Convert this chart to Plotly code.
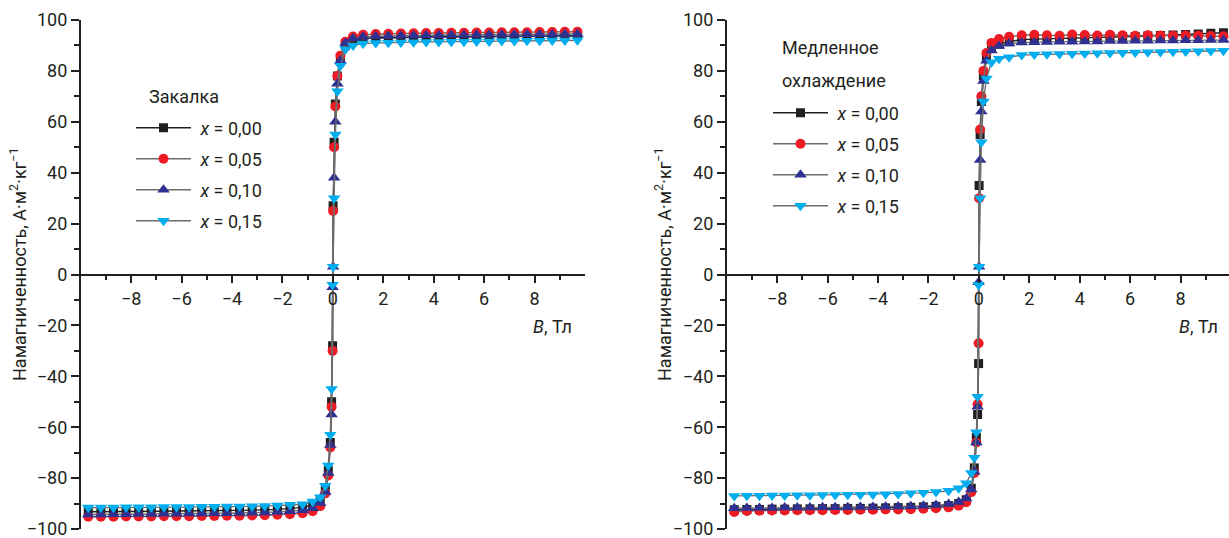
import plotly.graph_objects as go

# ---------------- data ----------------
B = [-9.7, -9.2, -8.7, -8.2, -7.7, -7.2, -6.7, -6.2, -5.7, -5.2, -4.7, -4.2, -3.7, -3.2, -2.7, -2.2, -1.7,
     -1.2, -0.8, -0.5, -0.3, -0.18, -0.1, -0.05, -0.01, 0.01, 0.05, 0.1, 0.18, 0.3, 0.5, 0.8, 1.2,
     1.7, 2.2, 2.7, 3.2, 3.7, 4.2, 4.7, 5.2, 5.7, 6.2, 6.7, 7.2, 7.7, 8.2, 8.7, 9.2, 9.7]

series_names = ["<i>x</i> = 0,00", "<i>x</i> = 0,05", "<i>x</i> = 0,10", "<i>x</i> = 0,15"]

# Quenched ("Закалка")
M_q_000 = [-93.2, -93.2, -93.1, -93.1, -93.0, -93.0, -93.0, -92.9, -92.9, -92.8, -92.8, -92.7, -92.7, -92.6, -92.5, -92.3, -92.0,
           -91.5, -90.5, -88.5, -84.5, -77.0, -66.0, -50.0, -28.0, 27.0, 52.0, 67.0, 78.0, 85.0, 90.0, 92.0, 92.8,
           93.0, 93.1, 93.2, 93.3, 93.3, 93.4, 93.4, 93.5, 93.5, 93.5, 93.6, 93.6, 93.6, 93.7, 93.7, 93.7, 93.8]
M_q_005 = [-95.2, -95.2, -95.2, -95.1, -95.1, -95.1, -95.0, -95.0, -95.0, -94.9, -94.9, -94.8, -94.8, -94.7, -94.6, -94.4, -94.2,
           -93.8, -93.0, -91.0, -86.0, -79.0, -68.0, -52.0, -30.0, 25.0, 50.0, 66.0, 78.0, 86.0, 91.5, 93.5, 94.2,
           94.5, 94.6, 94.7, 94.8, 94.9, 94.9, 95.0, 95.0, 95.1, 95.1, 95.2, 95.2, 95.2, 95.3, 95.3, 95.4, 95.4]
M_q_010 = [-94.3, -94.3, -94.2, -94.2, -94.1, -94.1, -94.0, -94.0, -93.9, -93.9, -93.8, -93.8, -93.7, -93.6, -93.5, -93.3, -93.0,
           -92.6, -91.8, -89.8, -85.5, -78.0, -67.0, -55.0, -5.0, 3.0, 38.0, 60.0, 75.0, 84.0, 91.0, 92.8, 93.4,
           93.6, 93.7, 93.8, 93.9, 94.0, 94.0, 94.1, 94.1, 94.2, 94.2, 94.3, 94.3, 94.4, 94.4, 94.4, 94.5, 94.5]
M_q_015 = [-91.6, -91.6, -91.6, -91.5, -91.5, -91.5, -91.4, -91.4, -91.4, -91.3, -91.3, -91.2, -91.2, -91.1, -91.0, -90.8, -90.5,
           -90.3, -89.2, -87.5, -83.0, -75.0, -63.0, -45.0, -4.0, 3.0, 30.0, 55.0, 72.0, 82.0, 88.5, 90.0, 90.8,
           91.0, 91.1, 91.2, 91.3, 91.4, 91.4, 91.5, 91.5, 91.6, 91.6, 91.7, 91.7, 91.8, 91.8, 91.9, 91.9, 92.0]

# Slow cooling ("Медленное охлаждение")
M_s_000 = [-92.4, -92.3, -92.3, -92.2, -92.2, -92.1, -92.1, -92.0, -92.0, -91.9, -91.9, -91.8, -91.7, -91.6, -91.5, -91.3, -91.1,
           -90.8, -90.0, -88.5, -84.0, -76.0, -64.0, -55.0, -35.0, 35.0, 55.0, 68.0, 78.0, 85.0, 89.0, 90.5, 91.5,
           92.3, 92.5, 92.6, 92.8, 92.9, 93.0, 93.1, 93.3, 93.4, 93.5, 93.7, 93.9, 94.1, 94.3, 94.5, 94.8, 95.0]
M_s_005 = [-93.3, -92.9, -92.8, -92.7, -92.7, -92.6, -92.6, -92.6, -92.5, -92.5, -92.4, -92.4, -92.3, -92.3, -92.2, -92.0, -91.8,
           -91.5, -90.8, -89.5, -85.5, -78.0, -66.0, -51.0, -27.0, 30.0, 57.0, 70.0, 80.0, 87.0, 91.0, 92.5, 93.4,
           94.0, 94.2, 94.0, 93.8, 94.3, 94.1, 93.9, 94.2, 94.0, 93.8, 94.0, 93.9, 93.8, 93.9, 93.8, 93.7, 93.6]
M_s_010 = [-91.8, -91.7, -91.7, -91.7, -91.6, -91.6, -91.6, -91.5, -91.5, -91.5, -91.4, -91.4, -91.3, -91.2, -91.1, -90.9, -90.6,
           -90.2, -89.4, -88.0, -84.5, -77.5, -66.0, -52.0, -3.0, 3.0, 45.0, 64.0, 76.0, 84.0, 88.0, 89.8, 90.8,
           91.2, 91.3, 91.4, 91.5, 91.5, 91.6, 91.6, 91.7, 91.7, 91.8, 91.8, 91.9, 91.9, 92.0, 92.0, 92.1, 92.1]
M_s_015 = [-87.0, -86.9, -86.9, -86.8, -86.8, -86.7, -86.7, -86.6, -86.6, -86.5, -86.5, -86.4, -86.3, -86.2, -86.0, -85.8, -85.5,
           -85.0, -84.0, -82.0, -78.0, -72.0, -62.0, -48.0, -4.0, 3.0, 30.0, 52.0, 68.0, 77.0, 83.4, 84.8, 85.4,
           86.2, 86.4, 86.5, 86.6, 86.7, 86.8, 86.9, 87.0, 87.1, 87.2, 87.3, 87.4, 87.5, 87.6, 87.7, 87.8, 87.9]

left_series = [M_q_000, M_q_005, M_q_010, M_q_015]
right_series = [M_s_000, M_s_005, M_s_010, M_s_015]

# ---------------- styles ----------------
marker_symbols = ["square", "circle", "triangle-up", "triangle-down"]
marker_colors = ["#231f20", "#ed1c24", "#2e3192", "#00aeef"]
marker_sizes = [9, 10, 11, 11]
line_colors = ["#231f20", "#6d6d6d", "#6d6d6d", "#6d6d6d"]
FONT = "Roboto, Arial, sans-serif"
AX = "#231f20"
FS = 18
NBSP = "\u00a0"

fig = go.Figure()
for panel, (series, xa, ya, leg) in enumerate([(left_series, "x", "y", "legend"),
                                               (right_series, "x2", "y2", "legend2")]):
    for i, vals in enumerate(series):
        fig.add_trace(go.Scatter(
            x=B, y=vals, xaxis=xa, yaxis=ya, mode="lines+markers",
            name=NBSP + series_names[i], legend=leg, legendgroup=f"p{panel}s{i}",
            line=dict(color=line_colors[i], width=1.4),
            marker=dict(symbol=marker_symbols[i], color=marker_colors[i], size=marker_sizes[i],
                        line=dict(width=0)),
        ))

W, H = 1229, 538
y_dom = [(H - 529) / H, (H - 20) / H]
y_mid = (y_dom[0] + y_dom[1]) / 2

def xaxis_cfg(domain, rng):
    return dict(domain=domain, range=rng, anchor="free", position=y_mid,
                automargin=False,
                showline=True, linecolor=AX, linewidth=1.5, mirror=False,
                tickmode="array", tickvals=[-8, -6, -4, -2, 0, 2, 4, 6, 8],
                ticktext=["−8", "−6", "−4", "−2", "0", "2", "4", "6", "8"],
                ticks="outside", ticklen=8, tickwidth=1.5, tickcolor=AX,
                minor=dict(tickmode="array", tickvals=[-9, -7, -5, -3, -1, 1, 3, 5, 7, 9],
                           ticks="outside", ticklen=5, tickwidth=1.5, tickcolor=AX),
                showgrid=False, zeroline=False, ticklabeloverflow="allow",
                tickfont=dict(family=FONT, size=FS, color=AX))

def yaxis_cfg(anchor):
    return dict(domain=y_dom, range=[-100, 100], anchor=anchor,
                automargin=False,
                showline=True, linecolor=AX, linewidth=1.5,
                tickmode="linear", tick0=0, dtick=20,
                ticks="outside", ticklen=8, tickwidth=1.5, tickcolor=AX,
                minor=dict(dtick=10, ticks="outside", ticklen=5, tickwidth=1.5, tickcolor=AX),
                showgrid=False, zeroline=False, ticklabeloverflow="allow",
                tickfont=dict(family=FONT, size=FS, color=AX))

legend_common = dict(xanchor="left", yanchor="top", itemwidth=55, tracegroupgap=4.6,
                     bgcolor="rgba(0,0,0,0)", borderwidth=0,
                     font=dict(family=FONT, size=FS, color=AX))

ytitle = "Намагниченность, А·м<sup>2</sup>·кг<sup>−1</sup>"
ann_font = dict(family=FONT, size=FS, color=AX)

fig.update_layout(
    width=W, height=H,
    margin=dict(l=0, r=0, t=0, b=0, pad=0, autoexpand=False),
    paper_bgcolor="white", plot_bgcolor="white",
    xaxis=xaxis_cfg([80.7 / W, 585 / W], [-10, 10]),
    yaxis=yaxis_cfg("x"),
    xaxis2=xaxis_cfg([726.7 / W, 1.0], [-10, 9.92]),
    yaxis2=yaxis_cfg("x2"),
    legend=dict(x=131 / W, y=(H - 109.5) / H, **legend_common),
    legend2=dict(x=768 / W, y=(H - 94.5) / H, **legend_common),
    annotations=[
        dict(text=ytitle, xref="paper", yref="paper", x=18 / W, y=(H - 265) / H,
             xanchor="center", yanchor="middle",
             textangle=-90, showarrow=False, font=ann_font),
        dict(text=ytitle, xref="paper", yref="paper", x=663 / W, y=(H - 265) / H,
             xanchor="center", yanchor="middle",
             textangle=-90, showarrow=False, font=ann_font),
        dict(text="<i>B</i>, Тл", xref="x", yref="y", x=9.55, y=-20.5, xanchor="right",
             showarrow=False, font=ann_font),
        dict(text="<i>B</i>, Тл", xref="x2", yref="y2", x=9.55, y=-20.5, xanchor="right",
             showarrow=False, font=ann_font),
        dict(text="Закалка", xref="paper", yref="paper", x=147 / W, y=(H - 96) / H,
             xanchor="left", yanchor="middle", showarrow=False, font=ann_font),
        dict(text="Медленное", xref="paper", yref="paper", x=780 / W, y=(H - 47) / H,
             xanchor="left", yanchor="middle", showarrow=False, font=ann_font),
        dict(text="охлаждение", xref="paper", yref="paper", x=780 / W, y=(H - 80) / H,
             xanchor="left", yanchor="middle", showarrow=False, font=ann_font),
    ],
)

fig.write_html("out.html", config={"displayModeBar": False},
               post_script="document.body.style.margin='0';document.body.style.overflow='hidden';")
